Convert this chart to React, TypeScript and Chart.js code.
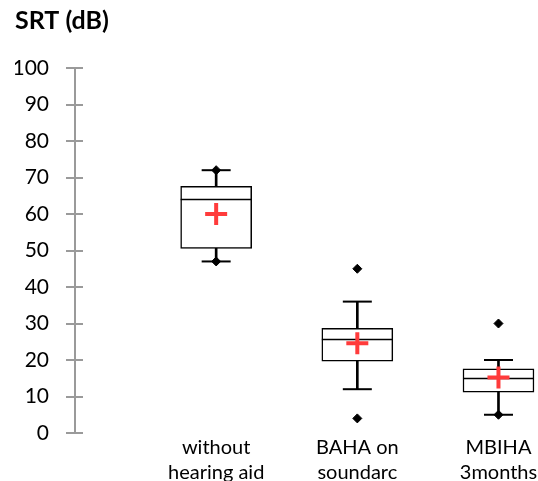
import React, { useEffect, useRef } from 'react';
import { Chart, registerables } from 'chart.js';

Chart.register(...registerables);

// ---- data ----
const categories: string[][] = [
  ['without', 'hearing aid'],
  ['BAHA on', 'soundarc'],
  ['MBIHA', '3months'],
];
const positions = [1, 2, 3];
const minValues = [47, 4, 5];
const maxValues = [72, 45, 30];
const whiskerLow = [47, 12, 5];
const whiskerHigh = [72, 36, 20];
const q1Values = [50.6, 19.7, 11.2];
const medianValues = [64, 25.6, 14.9];
const q3Values = [67.6, 28.7, 17.6];
const meanValues = [60, 24.6, 15.2];
const yTickValues = [0, 10, 20, 30, 40, 50, 60, 70, 80, 90, 100];

const AXIS_COLOR = '#9a9a9a';
const FONT = 'Lato';

const crossTicks = {
  id: 'crossTicks',
  afterDraw(chart: any) {
    const s = chart.scales.y;
    const ctx = chart.ctx;
    ctx.save();
    ctx.strokeStyle = AXIS_COLOR;
    ctx.lineWidth = 2;
    s.ticks.forEach((t: any) => {
      const y = Math.round(s.getPixelForValue(t.value));
      ctx.beginPath();
      ctx.moveTo(s.right, y);
      ctx.lineTo(s.right + 8, y);
      ctx.stroke();
    });
    ctx.restore();
  },
};

export default function App() {
  const ref = useRef<HTMLCanvasElement | null>(null);

  useEffect(() => {
    if (!ref.current) return;
    const pts = (vals: number[]) => positions.map((x, i) => ({ x, y: vals[i] }));
    const ranges = (a: number[], b: number[]) => positions.map((x, i) => ({ x, y: [a[i], b[i]] }));

    const chart = new Chart(ref.current, {
      type: 'bar',
      data: {
        datasets: [
          {
            type: 'scatter',
            label: 'mean',
            data: pts(meanValues),
            pointStyle: 'cross',
            pointRadius: 11,
            borderColor: '#ff3b3b',
            backgroundColor: '#ff3b3b',
            pointBorderWidth: 4,
            order: 0,
          } as any,
          {
            type: 'scatter',
            label: 'max',
            data: pts(maxValues),
            pointStyle: 'rectRot',
            pointRadius: 4.5,
            borderColor: '#000',
            backgroundColor: '#000',
            pointBorderWidth: 1,
            order: 1,
          } as any,
          {
            type: 'scatter',
            label: 'min',
            data: pts(minValues),
            pointStyle: 'rectRot',
            pointRadius: 4.5,
            borderColor: '#000',
            backgroundColor: '#000',
            pointBorderWidth: 1,
            order: 1,
          } as any,
          {
            type: 'scatter',
            label: 'capHigh',
            data: pts(whiskerHigh),
            pointStyle: 'line',
            pointRadius: 14.5,
            borderColor: '#000',
            pointBorderWidth: 2,
            order: 2,
          } as any,
          {
            type: 'scatter',
            label: 'capLow',
            data: pts(whiskerLow),
            pointStyle: 'line',
            pointRadius: 14.5,
            borderColor: '#000',
            pointBorderWidth: 2,
            order: 2,
          } as any,
          {
            type: 'scatter',
            label: 'median',
            data: pts(medianValues),
            pointStyle: 'line',
            pointRadius: 35.5,
            borderColor: '#000',
            pointBorderWidth: 1.5,
            order: 3,
          } as any,
          {
            type: 'bar',
            label: 'box',
            data: ranges(q1Values, q3Values),
            barThickness: 71,
            backgroundColor: '#fff',
            borderColor: '#000',
            borderWidth: 1.5,
            borderSkipped: false,
            grouped: false,
            order: 4,
          } as any,
          {
            type: 'bar',
            label: 'whiskerHigh',
            data: ranges(q3Values, whiskerHigh),
            barThickness: 2,
            backgroundColor: '#000',
            borderWidth: 0,
            grouped: false,
            order: 5,
          } as any,
          {
            type: 'bar',
            label: 'whiskerLow',
            data: ranges(whiskerLow, q1Values),
            barThickness: 2,
            backgroundColor: '#000',
            borderWidth: 0,
            grouped: false,
            order: 5,
          } as any,
        ],
      },
      options: {
        responsive: false,
        animation: false,
        devicePixelRatio: 1,
        events: [],
        layout: { autoPadding: false, padding: { left: 15, top: 0, right: 0, bottom: 0 } },
        plugins: {
          legend: { display: false },
          tooltip: { enabled: false },
          title: {
            display: true,
            text: 'SRT (dB)',
            align: 'start',
            color: '#000',
            font: { family: FONT, size: 25, weight: 'bold', lineHeight: 1.2 },
            padding: { top: 6, bottom: 32 },
          },
        },
        scales: {
          x: {
            type: 'linear',
            min: 0,
            max: 3.28,
            offset: false,
            grid: { display: false, drawTicks: false, offset: false },
            border: { display: false },
            afterBuildTicks: (scale: any) => {
              scale.ticks = positions.map((v) => ({ value: v }));
            },
            afterFit: (scale: any) => {
              scale.height = 48;
              scale.paddingLeft = 0;
              scale.paddingRight = 0;
            },
            ticks: {
              autoSkip: false,
              maxRotation: 0,
              padding: 2,
              color: '#000',
              font: { family: FONT, size: 20, lineHeight: 1.25 },
              callback: (value: any) => {
                const i = positions.indexOf(Number(value));
                return i >= 0 ? categories[i] : '';
              },
            },
          },
          y: {
            type: 'linear',
            min: 0,
            max: 100,
            grid: {
              drawOnChartArea: false,
              drawTicks: true,
              tickLength: 9,
              color: AXIS_COLOR,
              lineWidth: 2,
            },
            border: { display: true, color: AXIS_COLOR, width: 2 },
            afterBuildTicks: (scale: any) => {
              scale.ticks = yTickValues.map((v) => ({ value: v }));
            },
            afterFit: (scale: any) => {
              scale.width = 60;
            },
            ticks: {
              padding: 17,
              color: '#000',
              font: { family: FONT, size: 21 },
            },
          },
        },
      } as any,
      plugins: [crossTicks],
    });
    return () => chart.destroy();
  }, []);

  return (
    <div style={{ position: 'absolute', left: 0, top: 0, width: 538, height: 481, background: '#fff' }}>
      <canvas ref={ref} width={538} height={481} style={{ display: 'block' }} />
    </div>
  );
}
